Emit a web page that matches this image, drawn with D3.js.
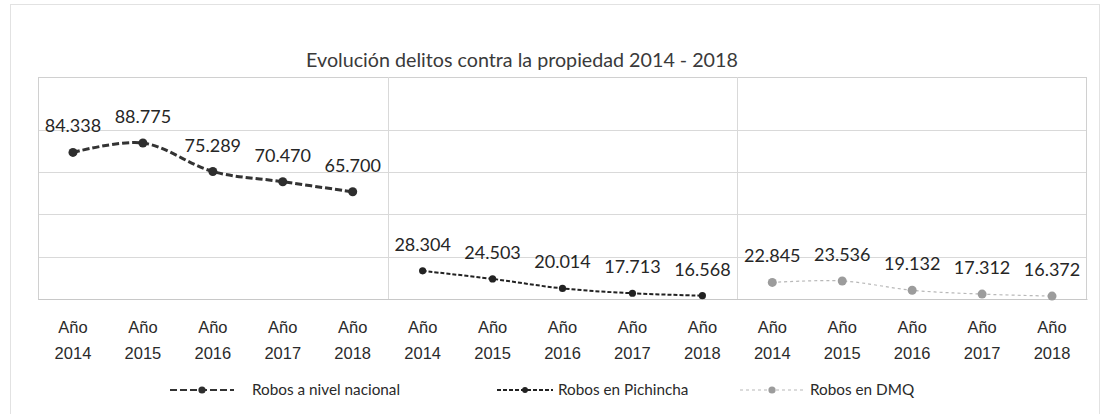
<!DOCTYPE html>
<html>
<head>
<meta charset="utf-8">
<script src="https://cdn.jsdelivr.net/npm/d3@7"></script>
<style>
  body { margin: 0; background: #fff; }
  svg { display: block; font-family: Lato, "Open Sans", sans-serif; }
</style>
</head>
<body>
<svg id="chart" width="1103" height="414"></svg>
<script>
const years = [2014, 2015, 2016, 2017, 2018, 2014, 2015, 2016, 2017, 2018, 2014, 2015, 2016, 2017, 2018];
const categories = years.map((y, i) => "c" + i);
const nacional = [84338, 88775, 75289, 70470, 65700, null, null, null, null, null, null, null, null, null, null];
const pichincha = [null, null, null, null, null, 28304, 24503, 20014, 17713, 16568, null, null, null, null, null];
const dmq = [null, null, null, null, null, null, null, null, null, null, 22845, 23536, 19132, 17312, 16372];
const gridTicks = [35000, 55000, 75000, 95000];
const seriesNames = ["Robos a nivel nacional", "Robos en Pichincha", "Robos en DMQ"];

const width = 1103;
const height = 414;
const plotLeft = 38, plotRight = 1087, plotTop = 77, plotBottom = 299;

const svg = d3.select("#chart");
const fmt = d3.formatLocale({ decimal: ",", thousands: ".", grouping: [3], currency: ["$", ""] }).format(",d");

// outer frame
svg.append("rect")
  .attr("x", 10.5).attr("y", 4.5)
  .attr("width", width - 14).attr("height", height - 4)
  .attr("fill", "none")
  .attr("stroke", "#e2e2e2");

svg.append("text")
  .attr("x", 522)
  .attr("y", 67)
  .attr("text-anchor", "middle")
  .attr("font-size", 19.7)
  .attr("fill", "#3a3a3a")
  .text("Evolución delitos contra la propiedad 2014 - 2018");

const x = d3.scaleBand().domain(categories).range([plotLeft, plotRight]);
const y = d3.scaleLinear().domain([15000, 120000]).range([plotBottom, plotTop]);

// gridlines
svg.append("g")
  .selectAll("line")
  .data(gridTicks)
  .join("line")
  .attr("x1", plotLeft).attr("x2", plotRight)
  .attr("y1", d => Math.round(y(d)) + 0.5)
  .attr("y2", d => Math.round(y(d)) + 0.5)
  .attr("stroke", "#d9d9d9");

// plot border
svg.append("rect")
  .attr("x", plotLeft + 0.5).attr("y", plotTop + 0.5)
  .attr("width", plotRight - plotLeft - 1).attr("height", plotBottom - plotTop)
  .attr("fill", "none")
  .attr("stroke", "#d0d0d0");

// separators between groups
svg.append("g")
  .selectAll("line")
  .data([5, 10])
  .join("line")
  .attr("x1", d => Math.round(x(categories[d])) + 0.5)
  .attr("x2", d => Math.round(x(categories[d])) + 0.5)
  .attr("y1", plotTop).attr("y2", plotBottom)
  .attr("stroke", "#d9d9d9");

// x axis labels (two lines)
const xAxis = svg.append("g").attr("transform", `translate(0,${plotBottom})`)
  .call(d3.axisBottom(x).tickSize(0).tickFormat(""));
xAxis.select(".domain").attr("stroke", "#c8c8c8");
xAxis.selectAll(".tick").each(function (d, i) {
  const t = d3.select(this).append("text")
    .attr("fill", "#2a2a2a")
    .attr("font-size", 16.5)
    .attr("text-anchor", "middle");
  t.append("tspan").attr("x", 0).attr("y", 34).text("Año");
  t.append("tspan").attr("x", 0).attr("y", 60).text(years[i]);
});

const styles = [
  { data: nacional, color: "#333", width: 3, dash: "7,3", r: 4.5, mColor: "#2e2e2e" },
  { data: pichincha, color: "#222", width: 2, dash: "4,2", r: 3.6, mColor: "#222" },
  { data: dmq, color: "#b8b8b8", width: 1.2, dash: "3,3", r: 4.5, mColor: "#9c9c9c" }
];

const cx = i => x(categories[i]) + x.bandwidth() / 2;

const line = d3.line()
  .defined(d => d.v != null)
  .x(d => cx(d.i))
  .y(d => y(d.v))
  .curve(d3.curveCatmullRom.alpha(0.5));

styles.forEach(s => {
  const pts = s.data.map((v, i) => ({ v, i }));
  const g = svg.append("g");
  g.append("path")
    .datum(pts)
    .attr("d", line)
    .attr("fill", "none")
    .attr("stroke", s.color)
    .attr("stroke-width", s.width)
    .attr("stroke-dasharray", s.dash);
  const valid = pts.filter(d => d.v != null);
  g.selectAll("circle")
    .data(valid)
    .join("circle")
    .attr("cx", d => cx(d.i))
    .attr("cy", d => y(d.v))
    .attr("r", s.r)
    .attr("fill", s.mColor);
  g.selectAll("text")
    .data(valid)
    .join("text")
    .attr("x", d => cx(d.i))
    .attr("y", d => y(d.v) - 20)
    .attr("text-anchor", "middle")
    .attr("font-size", 18)
    .attr("fill", "#262626")
    .text(d => fmt(d.v));
});

// legend
const legendX = [170, 497, 740];
const legend = svg.append("g");
styles.forEach((s, k) => {
  const g = legend.append("g").attr("transform", `translate(${legendX[k]},390)`);
  g.append("line")
    .attr("x1", 0).attr("x2", k === 1 ? 56 : 64)
    .attr("stroke", s.color)
    .attr("stroke-width", Math.min(s.width, 2))
    .attr("stroke-dasharray", s.dash);
  g.append("circle")
    .attr("cx", k === 1 ? 28 : 32)
    .attr("r", s.r * 0.8)
    .attr("fill", s.mColor);
  g.append("text")
    .attr("x", k === 2 ? 70 : (k === 1 ? 61 : 82))
    .attr("y", 5)
    .attr("font-size", 15.3)
    .attr("fill", "#2a2a2a")
    .text(seriesNames[k]);
});
</script>
</body>
</html>
